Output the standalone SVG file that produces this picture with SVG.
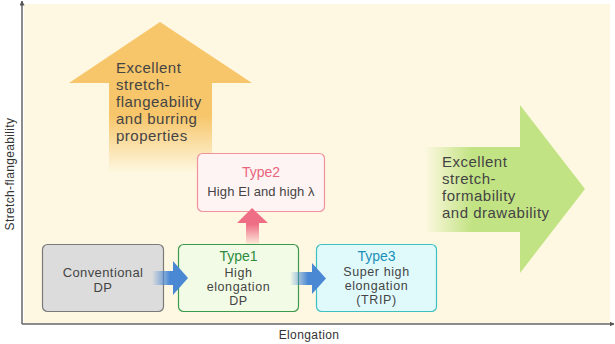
<svg xmlns="http://www.w3.org/2000/svg" width="615" height="344" viewBox="0 0 615 344">
<defs>
<linearGradient id="gOrange" gradientUnits="userSpaceOnUse" x1="0" y1="22" x2="0" y2="173">
<stop offset="0" stop-color="#F7C66A"/>
<stop offset="0.62" stop-color="#F7C66A"/>
<stop offset="1" stop-color="#F7C66A" stop-opacity="0"/>
</linearGradient>
<linearGradient id="gGreen" gradientUnits="userSpaceOnUse" x1="424" y1="0" x2="585" y2="0">
<stop offset="0" stop-color="#C2E383" stop-opacity="0"/>
<stop offset="0.3" stop-color="#C2E383"/>
<stop offset="1" stop-color="#C2E383"/>
</linearGradient>
<linearGradient id="gBlue1" gradientUnits="userSpaceOnUse" x1="152" y1="0" x2="188" y2="0">
<stop offset="0" stop-color="#4A88D4" stop-opacity="0"/>
<stop offset="0.5" stop-color="#4A88D4"/>
<stop offset="1" stop-color="#4A88D4"/>
</linearGradient>
<linearGradient id="gBlue2" gradientUnits="userSpaceOnUse" x1="290" y1="0" x2="326" y2="0">
<stop offset="0" stop-color="#4A88D4" stop-opacity="0"/>
<stop offset="0.5" stop-color="#4A88D4"/>
<stop offset="1" stop-color="#4A88D4"/>
</linearGradient>
<linearGradient id="gPink" gradientUnits="userSpaceOnUse" x1="0" y1="208" x2="0" y2="244">
<stop offset="0" stop-color="#EE6E86"/>
<stop offset="0.45" stop-color="#EE6E86"/>
<stop offset="1" stop-color="#EE6E86" stop-opacity="0.1"/>
</linearGradient>
<marker id="axHead" viewBox="0 0 10 10" refX="9" refY="5" markerWidth="5" markerHeight="5" orient="auto" markerUnits="userSpaceOnUse">
<path d="M0,0 L10,5 L0,10 Z" fill="#555"/>
</marker>
</defs>
<style>
text { font-family: "Liberation Sans", Arial, sans-serif; fill: #444; }
.big { font-size: 15px; letter-spacing: 0.5px; }
.box { font-size: 12.5px; letter-spacing: 0.6px; text-anchor: middle; }
.ttl { font-size: 14px; text-anchor: middle; }
.ax { font-size: 12px; letter-spacing: 0.4px; text-anchor: middle; fill: #333; }
</style>
<rect x="24" y="4" width="586" height="319" fill="#FEF8E2"/>
<g id="arrow-flange">
<path d="M160,22 L252,83 L212,83 L212,173 L109,173 L109,83 L69,83 Z" fill="url(#gOrange)"/>
<text class="big" x="116" y="73">Excellent</text>
<text class="big" x="116" y="90">stretch-</text>
<text class="big" x="116" y="107">flangeability</text>
<text class="big" x="116" y="124">and burring</text>
<text class="big" x="116" y="141">properties</text>
</g>
<g id="arrow-formability">
<path d="M424,147 L520,147 L520,105 L585,189 L520,273 L520,232 L424,232 Z" fill="url(#gGreen)"/>
<text class="big" x="442" y="167">Excellent</text>
<text class="big" x="442" y="184">stretch-</text>
<text class="big" x="442" y="201">formability</text>
<text class="big" x="442" y="218">and drawability</text>
</g>
<g id="node-conventional">
<rect x="42.5" y="244.5" width="121" height="67" rx="5" fill="#DCDCDC" stroke="#7A7A7A" stroke-width="1.2"/>
<text class="box" x="103" y="277" style="font-size:13px;letter-spacing:0.4px">Conventional</text>
<text class="box" x="103" y="292" style="font-size:13px;letter-spacing:0.4px">DP</text>
</g>
<g id="node-type1">
<rect x="178.5" y="244.5" width="120" height="67" rx="5" fill="#F2FBE6" stroke="#3C9A4C" stroke-width="1.2"/>
<text class="ttl" x="238.5" y="261" style="fill:#2E8B3E">Type1</text>
<text class="box" x="238.5" y="277">High</text>
<text class="box" x="238.5" y="291">elongation</text>
<text class="box" x="238.5" y="305">DP</text>
</g>
<g id="node-type2">
<rect x="197.5" y="153.5" width="127" height="58" rx="5" fill="#FFF4F4" stroke="#F0929C" stroke-width="1.2"/>
<text class="ttl" x="261" y="177" style="fill:#E9657C">Type2</text>
<text class="box" x="261" y="196" style="font-size:13px;letter-spacing:0.1px">High El and high λ</text>
</g>
<g id="node-type3">
<rect x="316.5" y="244.5" width="120" height="67" rx="5" fill="#E0FAFC" stroke="#3EC0C2" stroke-width="1.2"/>
<text class="ttl" x="376.5" y="261" style="fill:#1C8FB8">Type3</text>
<text class="box" x="376.5" y="275.5">Super high</text>
<text class="box" x="376.5" y="289.5">elongation</text>
<text class="box" x="376.5" y="303.5">(TRIP)</text>
</g>
<g id="connectors">
<line x1="22" y1="324" x2="22" y2="1" stroke="#666" stroke-width="1.5" marker-end="url(#axHead)"/>
<line x1="22" y1="324" x2="614" y2="324" stroke="#666" stroke-width="1.5" marker-end="url(#axHead)"/>
<path d="M152,271 L173,271 L173,261 L188,278 L173,295 L173,285 L152,285 Z" fill="url(#gBlue1)"/>
<path d="M290,272 L312,272 L312,263 L326,278.5 L312,294 L312,285 L290,285 Z" fill="url(#gBlue2)"/>
<path d="M252,208 L268,223 L259,223 L259,244 L246,244 L246,223 L237,223 Z" fill="url(#gPink)"/>
</g>
<text class="ax" x="309" y="339">Elongation</text>
<text class="ax" transform="translate(14,174) rotate(-90)" style="letter-spacing:0.35px">Stretch-flangeability</text>
</svg>
